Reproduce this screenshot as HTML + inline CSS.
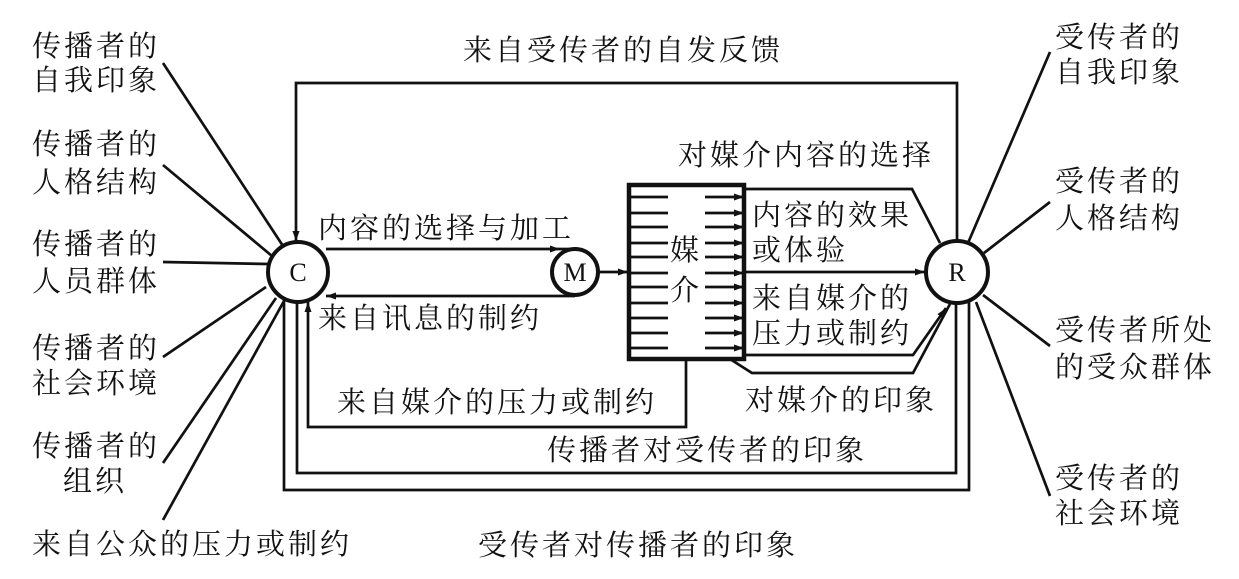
<!DOCTYPE html>
<html><head><meta charset="utf-8"><style>
html,body{margin:0;padding:0;background:#fff;}
svg{display:block;}
text{font-family:"Liberation Serif","Noto Serif CJK SC",serif;font-size:29px;fill:#111;letter-spacing:3px;}
.l{font-family:"Liberation Serif",serif;font-size:26px;letter-spacing:0;}
</style></head><body>
<svg width="1239" height="579" viewBox="0 0 1239 579" xmlns="http://www.w3.org/2000/svg">
<defs>
<marker id="a" viewBox="0 0 10 10" refX="10" refY="5" markerWidth="10" markerHeight="7" markerUnits="userSpaceOnUse" orient="auto" preserveAspectRatio="none"><path d="M0,0L10,5L0,10z" fill="#111"/></marker>
</defs>
<g stroke="#111" stroke-width="2.7" fill="none">
<line x1="163" y1="63" x2="283" y2="246"/>
<line x1="163" y1="165" x2="272" y2="256"/>
<line x1="163" y1="262" x2="268" y2="264"/>
<line x1="163" y1="357" x2="266" y2="287"/>
<line x1="163" y1="463" x2="276" y2="298"/>
<line x1="163" y1="520" x2="284" y2="301"/>
<line x1="1050" y1="52" x2="968" y2="243"/>
<line x1="1050" y1="202" x2="984" y2="253"/>
<line x1="1050" y1="346" x2="983" y2="295"/>
<line x1="1050" y1="496" x2="976" y2="302"/>
<polyline points="957,241 957,83 296,83 296,241" marker-end="url(#a)"/>
<polyline points="297,303 297,473 956,473 956,303"/>
<polyline points="284,300 284,490 969,490 969,302"/>
<line x1="326" y1="249" x2="560" y2="249" marker-end="url(#a)"/>
<line x1="560" y1="249" x2="575" y2="249"/>
<line x1="575" y1="296" x2="326" y2="296" marker-end="url(#a)"/>
<line x1="599" y1="272" x2="628" y2="272" marker-end="url(#a)"/>
<polyline points="686,359 686,427 308,427 308,302" marker-end="url(#a)"/>
<polyline points="744,189 912,189 940,243"/>
<line x1="744" y1="272" x2="925" y2="272" marker-end="url(#a)"/>
<polyline points="744,355 913,355 946,308" marker-end="url(#a)"/>
<polyline points="730,359 752,373 913,373 950,304"/>
<g stroke-width="2.8">
<line x1="630" y1="197" x2="668" y2="197"/><line x1="630" y1="213" x2="668" y2="213"/>
<line x1="630" y1="227" x2="668" y2="227"/><line x1="630" y1="243" x2="668" y2="243"/>
<line x1="630" y1="257" x2="668" y2="257"/><line x1="630" y1="273" x2="668" y2="273"/>
<line x1="630" y1="287" x2="668" y2="287"/><line x1="630" y1="303" x2="668" y2="303"/>
<line x1="630" y1="318" x2="668" y2="318"/><line x1="630" y1="333" x2="668" y2="333"/>
<line x1="630" y1="348" x2="668" y2="348"/>
</g>
<g stroke-width="2.8" marker-end="url(#a)">
<line x1="705" y1="197" x2="744" y2="197"/><line x1="705" y1="213" x2="744" y2="213"/>
<line x1="705" y1="227" x2="744" y2="227"/><line x1="705" y1="243" x2="744" y2="243"/>
<line x1="705" y1="257" x2="744" y2="257"/><line x1="705" y1="273" x2="744" y2="273"/>
<line x1="705" y1="287" x2="744" y2="287"/><line x1="705" y1="303" x2="744" y2="303"/>
<line x1="705" y1="318" x2="744" y2="318"/><line x1="705" y1="333" x2="744" y2="333"/>
<line x1="705" y1="348" x2="744" y2="348"/>
</g>
<rect x="629" y="185" width="115" height="174" stroke-width="4.5"/>
<circle cx="298" cy="272" r="30" fill="#fff" stroke-width="4"/>
<circle cx="575" cy="272" r="23" fill="#fff" stroke-width="4"/>
<circle cx="957" cy="272" r="31" fill="#fff" stroke-width="4"/>
</g>
<text class="l" x="298" y="281" text-anchor="middle">C</text>
<text class="l" x="575" y="281" text-anchor="middle">M</text>
<text class="l" x="957" y="281" text-anchor="middle">R</text>
<text x="32" y="56">传播者的</text><text x="32" y="90">自我印象</text>
<text x="32" y="154">传播者的</text><text x="32" y="192">人格结构</text>
<text x="32" y="254">传播者的</text><text x="32" y="291">人员群体</text>
<text x="32" y="358">传播者的</text><text x="32" y="393">社会环境</text>
<text x="32" y="456">传播者的</text><text x="63" y="491">组织</text>
<text x="32" y="554">来自公众的压力或制约</text>
<text x="1055" y="47">受传者的</text><text x="1055" y="82">自我印象</text>
<text x="1055" y="191">受传者的</text><text x="1055" y="228">人格结构</text>
<text x="1055" y="340">受传者所处</text><text x="1055" y="377">的受众群体</text>
<text x="1055" y="488">受传者的</text><text x="1055" y="523">社会环境</text>
<text x="463" y="60">来自受传者的自发反馈</text>
<text x="678" y="165">对媒介内容的选择</text>
<text x="318" y="238">内容的选择与加工</text>
<text x="318" y="328">来自讯息的制约</text>
<text x="337" y="412">来自媒介的压力或制约</text>
<text x="547" y="460">传播者对受传者的印象</text>
<text x="478" y="555">受传者对传播者的印象</text>
<text x="745" y="410">对媒介的印象</text>
<text x="752" y="225">内容的效果</text><text x="752" y="260">或体验</text>
<text x="752" y="308">来自媒介的</text><text x="752" y="343">压力或制约</text>
<rect x="669" y="233" width="33" height="70" fill="#fff"/>
<text x="670" y="260">媒</text><text x="670" y="300">介</text>
</svg>
</body></html>
